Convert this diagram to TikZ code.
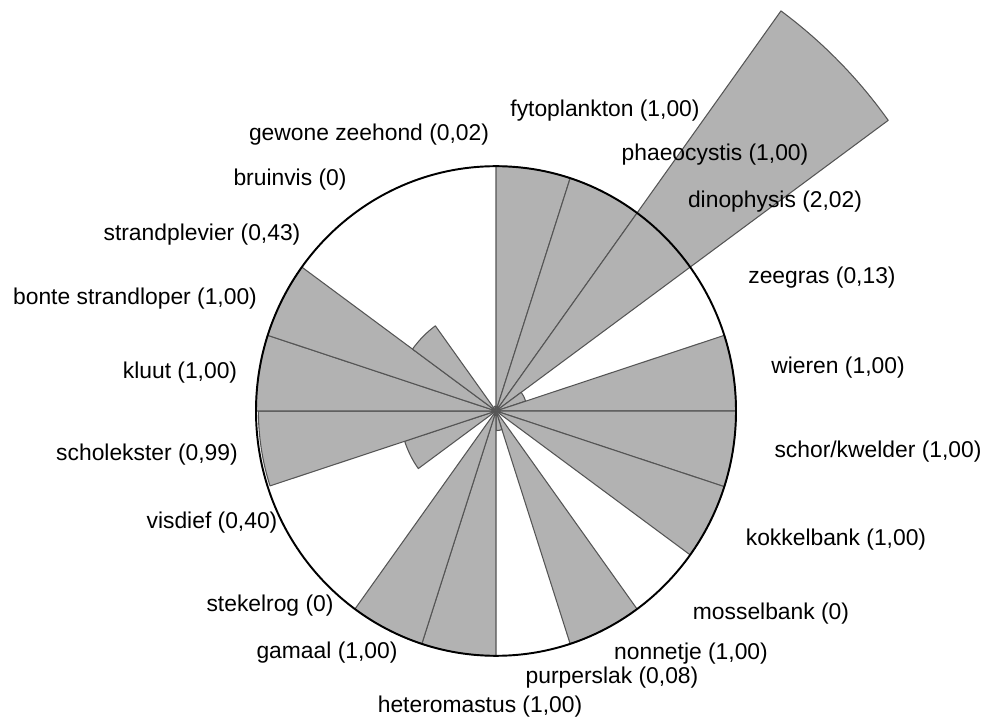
\documentclass[tikz,border=0pt]{standalone}
\usepackage{fontspec}
\setmainfont{Liberation Sans}
\usepackage{tikz}
\definecolor{sectorgray}{HTML}{B2B2B2}
\definecolor{edgegray}{HTML}{555555}

\begin{document}
\begin{tikzpicture}[x=0.02cm, y=0.02cm,
  lbl/.style={font=\fontsize{13}{15}\selectfont, inner sep=0pt},
  sector/.style={fill=sectorgray, draw=edgegray, line width=0.6pt, line join=round}]
  \useasboundingbox (0,0) rectangle (985,721);

  % Sectors (index clockwise from top, value as fraction of the circle radius)
  \begin{scope}[shift={(496,310)}, yscale=1.02]
    \foreach \i/\v in {0/1.00, 1/1.00, 2/2.02, 3/0.13, 4/1.00, 5/1.00, 6/1.00, 8/1.00, 9/0.08,
                       10/1.00, 11/1.00, 13/0.40, 14/0.99, 15/1.00, 16/1.00, 17/0.43, 19/0.02} {
      \pgfmathsetmacro\ra{240*\v}
      \pgfmathsetmacro\aa{90-18*\i}
      \pgfmathsetmacro\ab{72-18*\i}
      \draw[sector] (0,0) -- (\aa:\ra) arc[start angle=\aa, end angle=\ab, radius=\ra] -- cycle;
    }
    % Reference circle
    \draw[line width=1.1pt] (0,0) circle[radius=240];
    \node[coordinate] (centre) at (0,0) {};
  \end{scope}

  % Labels, right half
  \node[lbl] (fytoplankton) at (605,610) {fytoplankton (1,00)};
  \node[lbl] (phaeocystis) at (715,566) {phaeocystis (1,00)};
  \node[lbl] (dinophysis) at (775,519) {dinophysis (2,02)};
  \node[lbl] (zeegras) at (822,443) {zeegras (0,13)};
  \node[lbl] (wieren) at (838,353) {wieren (1,00)};
  \node[lbl] (schor) at (878,269) {schor/kwelder (1,00)};
  \node[lbl] (kokkelbank) at (836,181) {kokkelbank (1,00)};
  \node[lbl] (mosselbank) at (771,107) {mosselbank (0)};
  \node[lbl] (nonnetje) at (691,67) {nonnetje (1,00)};
  \node[lbl] (purperslak) at (612,43) {purperslak (0,08)};

  % Labels, left half
  \node[lbl] (heteromastus) at (480,14) {heteromastus (1,00)};
  \node[lbl] (gamaal) at (327,68) {gamaal (1,00)};
  \node[lbl] (stekelrog) at (270,115) {stekelrog (0)};
  \node[lbl] (visdief) at (212,198) {visdief (0,40)};
  \node[lbl] (scholekster) at (147,266) {scholekster (0,99)};
  \node[lbl] (kluut) at (180,348) {kluut (1,00)};
  \node[lbl] (bonte) at (135,422) {bonte strandloper (1,00)};
  \node[lbl] (strandplevier) at (202,486) {strandplevier (0,43)};
  \node[lbl] (bruinvis) at (290,541) {bruinvis (0)};
  \node[lbl] (zeehond) at (369,586) {gewone zeehond (0,02)};
\end{tikzpicture}
\end{document}
